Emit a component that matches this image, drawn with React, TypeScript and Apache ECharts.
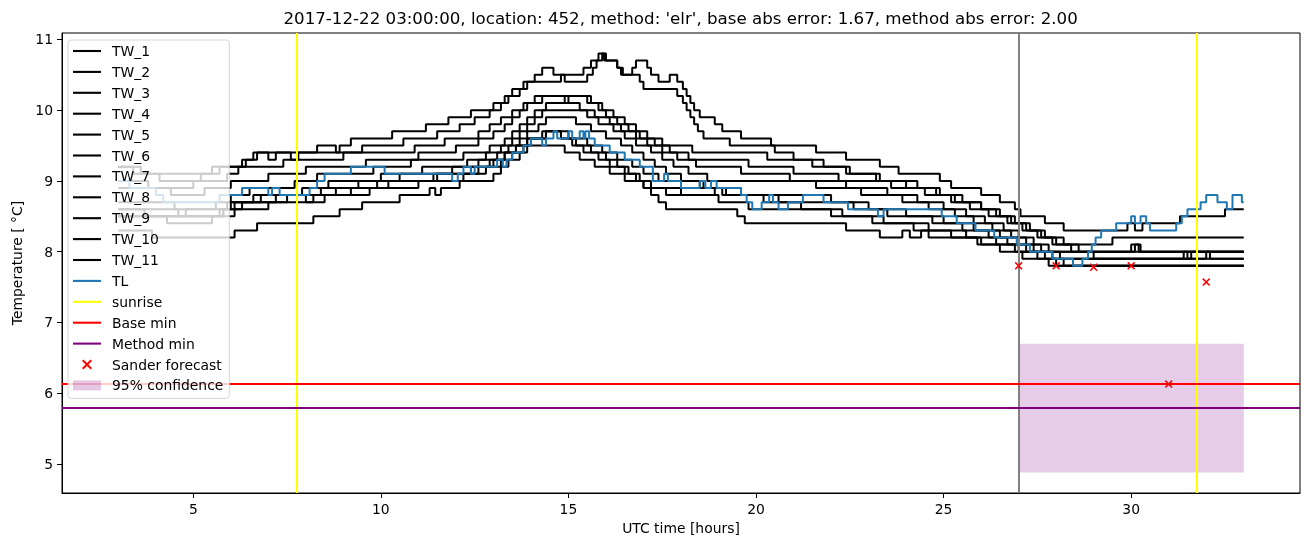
import React, { useEffect, useRef } from "react";
import * as echarts from "echarts";

// ---- data (hours, temperature in deg C); each point = [time, value from this time on]
const TW_1 = [[3,9.2],[3.6,9.1],[4.1,9.0],[5.2,9.1],[5.7,9.2],[6.4,9.3],[6.6,9.4],[7.0,9.3],[7.2,9.4],[8.3,9.5],[8.8,9.4],[8.9,9.5],[9.2,9.6],[10.3,9.7],[11.2,9.8],[11.8,9.9],[12.4,10.0],[13.0,10.1],[13.3,10.2],[13.5,10.3],[13.8,10.4],[14.1,10.5],[14.3,10.6],[14.6,10.5],[15.4,10.6],[15.6,10.7],[15.8,10.8],[15.95,10.7],[16.3,10.6],[16.45,10.5],[16.7,10.6],[16.8,10.7],[17.1,10.6],[17.2,10.5],[17.4,10.4],[17.7,10.5],[17.9,10.4],[18.05,10.3],[18.15,10.2],[18.25,10.1],[18.35,10.0],[18.5,9.9],[18.9,9.8],[19.1,9.7],[19.6,9.6],[20.4,9.5],[21.6,9.4],[22.4,9.3],[23.3,9.2],[23.8,9.1],[24.9,9.0],[25.2,8.9],[26.0,8.8],[26.5,8.7],[26.9,8.6],[27.05,8.5],[27.7,8.4],[28.2,8.3],[29.9,8.4],[30.1,8.3],[30.3,8.4],[31.3,8.5],[32.5,8.6],[33,8.6]];
const TW_2 = [[3,9.2],[3.4,9.1],[5.5,9.2],[6.3,9.3],[6.7,9.4],[7.6,9.3],[7.8,9.4],[9.5,9.5],[10.6,9.6],[11.5,9.7],[12.1,9.8],[12.5,9.9],[12.9,10.0],[13.2,10.1],[13.4,10.2],[13.7,10.3],[13.9,10.4],[14.8,10.5],[14.9,10.4],[15.5,10.5],[15.65,10.6],[15.75,10.7],[15.9,10.8],[16.0,10.7],[16.3,10.6],[16.4,10.5],[16.9,10.4],[17.0,10.3],[17.9,10.2],[18.05,10.1],[18.15,10.0],[18.25,9.9],[18.35,9.8],[18.45,9.7],[18.6,9.6],[19.3,9.5],[20.5,9.4],[21.0,9.3],[21.8,9.2],[22.5,9.1],[23.2,9.0],[24.0,8.9],[24.8,8.8],[25.3,8.7],[26.0,8.6],[26.5,8.5],[26.9,8.4],[27.3,8.3],[27.7,8.2],[28.2,8.1],[29.5,8.2],[33,8.2]];
const TW_3 = [[3,9.0],[3.8,8.9],[5.0,9.0],[5.9,9.1],[6.2,9.2],[7.4,9.3],[9.0,9.4],[10.9,9.5],[11.7,9.6],[12.6,9.7],[12.9,9.8],[13.2,9.9],[13.5,10.0],[13.8,10.1],[14.1,10.2],[15.6,10.1],[15.9,10.0],[16.2,9.9],[16.5,9.8],[16.8,9.7],[17.1,9.6],[17.5,9.5],[18.3,9.4],[20.3,9.3],[21.5,9.2],[22.4,9.1],[23.3,9.0],[24.3,8.9],[24.9,8.8],[25.5,8.7],[26.0,8.6],[26.4,8.5],[26.8,8.4],[27.2,8.3],[27.6,8.2],[28.0,8.1],[28.6,8.0],[33,8.0]];
const TW_4 = [[3,8.9],[4.4,8.8],[5.3,8.9],[6.0,9.0],[7.0,9.1],[8.0,9.2],[9.6,9.3],[11.0,9.4],[12.0,9.5],[12.6,9.6],[13.0,9.7],[13.3,9.8],[13.5,9.9],[13.7,10.0],[13.9,10.1],[14.3,10.2],[14.9,10.1],[15.0,10.2],[15.5,10.1],[15.8,10.0],[16.0,9.9],[16.3,9.8],[16.6,9.7],[16.9,9.6],[17.3,9.5],[17.7,9.4],[18.2,9.3],[19.8,9.2],[21.0,9.1],[22.2,9.0],[23.6,8.9],[24.5,8.8],[25.2,8.7],[25.7,8.6],[26.2,8.5],[26.7,8.4],[27.1,8.3],[27.5,8.2],[27.9,8.1],[28.4,8.0],[29.0,7.9],[33,7.9]];
const TW_5 = [[3,8.7],[4.5,8.6],[5.6,8.7],[6.0,8.8],[6.5,8.9],[7.7,9.0],[8.3,9.1],[9.8,9.2],[10.8,9.3],[12.2,9.4],[12.9,9.5],[13.3,9.6],[13.5,9.7],[13.7,9.8],[13.9,9.9],[14.1,10.0],[14.4,10.1],[15.3,10.0],[15.7,9.9],[16.1,9.8],[16.4,9.7],[16.8,9.6],[17.1,9.5],[17.5,9.4],[17.9,9.3],[18.4,9.2],[19.6,9.1],[20.9,9.0],[22.4,8.9],[23.5,8.8],[24.3,8.7],[25.0,8.6],[25.6,8.5],[26.1,8.4],[26.6,8.3],[27.0,8.2],[27.4,8.1],[27.8,8.0],[30.1,8.1],[30.25,8.0],[33,8.0]];
const TW_6 = [[3,8.6],[4.6,8.5],[5.8,8.6],[6.0,8.7],[6.6,8.8],[7.9,8.9],[8.6,9.0],[10.0,9.1],[11.1,9.2],[12.3,9.3],[12.8,9.4],[13.2,9.5],[13.5,9.6],[13.7,9.7],[13.9,9.8],[14.1,9.9],[14.3,10.0],[15.5,9.9],[15.8,9.8],[16.2,9.7],[16.5,9.6],[16.8,9.5],[17.2,9.4],[17.5,9.3],[17.8,9.2],[18.2,9.1],[18.7,9.0],[21.6,8.9],[22.8,8.8],[23.9,8.7],[24.6,8.6],[25.3,8.5],[25.8,8.4],[26.3,8.3],[26.8,8.2],[27.2,8.1],[27.6,8.0],[28.1,7.9],[31.4,8.0],[31.5,7.9],[31.6,8.0],[33,8.0]];
const TW_7 = [[3,8.5],[4.8,8.6],[5.9,8.7],[6.8,8.8],[8.4,8.9],[9.4,9.0],[10.5,9.1],[11.9,9.2],[12.6,9.3],[13.1,9.4],[13.4,9.5],[13.7,9.6],[13.9,9.7],[14.2,9.8],[14.4,9.9],[15.2,9.8],[15.6,9.7],[16.0,9.6],[16.4,9.5],[16.7,9.4],[17.0,9.3],[17.3,9.2],[17.6,9.1],[18.0,9.0],[18.5,8.9],[19.6,8.8],[22.0,8.7],[23.0,8.6],[24.0,8.5],[25.0,8.4],[25.8,8.3],[26.5,8.2],[27.0,8.1],[27.4,8.0],[27.9,7.9],[32.0,8.0],[32.1,7.9],[33,7.9]];
const TW_8 = [[3,8.5],[5.8,8.6],[6.1,8.7],[7.2,8.8],[8.8,8.9],[9.9,9.0],[11.4,9.1],[12.4,9.2],[12.9,9.3],[13.3,9.4],[13.6,9.5],[13.9,9.6],[14.3,9.7],[15.0,9.6],[15.5,9.5],[15.9,9.4],[16.3,9.3],[16.7,9.2],[17.0,9.1],[17.4,9.0],[18.6,8.9],[19.2,8.8],[20.6,8.7],[22.6,8.6],[23.5,8.5],[24.7,8.4],[25.5,8.3],[26.2,8.2],[26.7,8.1],[27.2,8.0],[27.7,7.9],[28.0,7.8],[33,7.8]];
const TW_9 = [[3,8.6],[3.7,8.5],[5.7,8.6],[6.3,8.7],[7.5,8.8],[8.0,8.7],[8.2,8.8],[9.2,8.9],[10.2,9.0],[11.5,9.1],[12.6,9.2],[13.0,9.3],[13.3,9.4],[13.6,9.5],[13.9,9.6],[14.4,9.7],[14.8,9.6],[15.2,9.5],[15.6,9.4],[16.0,9.3],[16.3,9.2],[16.6,9.1],[16.9,9.0],[17.2,8.9],[17.6,8.8],[19.0,8.7],[19.8,8.6],[22.0,8.5],[23.1,8.4],[24.6,8.3],[25.6,8.2],[26.4,8.1],[27.0,8.0],[27.5,7.9],[28.2,7.8],[33,7.8]];
const TW_10 = [[3,8.5],[4.3,8.4],[5.5,8.5],[6.1,8.6],[7.0,8.7],[8.5,8.8],[9.7,8.9],[11.0,9.0],[12.2,9.1],[12.8,9.2],[13.2,9.3],[13.5,9.4],[13.8,9.5],[14.9,9.4],[15.3,9.3],[15.7,9.2],[16.1,9.1],[16.5,9.0],[17.0,8.9],[18.0,8.8],[18.9,8.9],[19.1,8.8],[20.2,8.7],[21.2,8.6],[22.3,8.5],[23.4,8.4],[24.2,8.3],[25.2,8.2],[26.0,8.1],[26.9,8.0],[30.0,8.1],[30.2,8.0],[33,8.0]];
const TW_11 = [[3,8.3],[3.9,8.2],[6.1,8.3],[6.7,8.4],[8.2,8.5],[8.9,8.6],[9.5,8.7],[10.5,8.8],[11.3,8.9],[11.45,8.8],[11.6,8.9],[12.1,9.0],[13.0,9.1],[13.2,9.2],[13.4,9.3],[13.7,9.4],[13.9,9.5],[14.0,9.6],[14.4,9.7],[14.8,9.6],[15.1,9.5],[15.4,9.4],[15.8,9.3],[16.1,9.2],[16.5,9.1],[16.8,9.0],[17.0,8.9],[17.2,8.8],[17.4,8.7],[17.6,8.6],[19.5,8.5],[19.7,8.4],[22.4,8.3],[23.3,8.2],[23.9,8.3],[24.1,8.2],[24.4,8.3],[24.6,8.2],[25.9,8.1],[26.5,8.0],[27.1,7.9],[27.8,7.8],[33,7.8]];
const TL = [[3,9.0],[3.3,8.9],[4.0,8.8],[4.2,8.7],[5.7,8.8],[6.3,8.9],[7.0,8.8],[7.1,8.9],[7.3,8.8],[8.1,8.9],[8.3,9.0],[8.5,9.1],[9.2,9.2],[10.1,9.1],[11.9,9.0],[12.05,9.1],[12.2,9.2],[12.4,9.1],[12.5,9.2],[13.1,9.3],[13.25,9.2],[13.35,9.3],[13.5,9.4],[13.8,9.5],[14.0,9.6],[14.3,9.5],[14.4,9.6],[14.6,9.7],[14.7,9.6],[15.0,9.7],[15.1,9.6],[15.3,9.7],[15.4,9.6],[15.45,9.7],[15.55,9.6],[15.7,9.5],[16.1,9.4],[16.5,9.3],[16.9,9.2],[17.25,9.0],[17.55,9.1],[17.65,9.0],[18.0,8.9],[18.5,9.0],[18.65,8.9],[18.8,9.0],[18.95,8.9],[19.6,8.8],[19.75,8.7],[19.9,8.6],[20.15,8.7],[20.35,8.8],[20.45,8.7],[20.6,8.6],[20.85,8.7],[21.25,8.8],[21.8,8.7],[22.45,8.6],[23.25,8.5],[23.4,8.6],[24.95,8.5],[25.35,8.4],[25.85,8.3],[26.35,8.2],[26.95,8.1],[27.3,8.0],[27.9,7.9],[28.45,7.8],[28.7,7.9],[28.85,8.0],[28.95,8.1],[29.05,8.2],[29.2,8.3],[29.6,8.4],[30.0,8.5],[30.1,8.4],[30.25,8.5],[30.4,8.4],[30.5,8.3],[31.2,8.4],[31.35,8.5],[31.5,8.6],[31.85,8.7],[32.0,8.8],[32.3,8.7],[32.55,8.6],[32.7,8.8],[32.95,8.7],[33,8.7]];

const TW_NAMES = ["TW_1","TW_2","TW_3","TW_4","TW_5","TW_6","TW_7","TW_8","TW_9","TW_10","TW_11"];
const TW_DATA = [TW_1,TW_2,TW_3,TW_4,TW_5,TW_6,TW_7,TW_8,TW_9,TW_10,TW_11];

const SUNRISE = [7.76, 31.76];
const NOW_TIME = 27.0;
const BASE_MIN = 6.13;
const METHOD_MIN = 5.8;
const SANDER = [[27,7.8],[28,7.8],[29,7.78],[30,7.8],[31,6.13],[32,7.57]];
const CONF_X = [27, 33];
const CONF_Y = [4.88, 6.7];

const X_TICKS = [5, 10, 15, 20, 25, 30];
const Y_TICKS = [5, 6, 7, 8, 9, 10, 11];

const TITLE = "2017-12-22 03:00:00, location: 452, method: 'elr', base abs error: 1.67, method abs error: 2.00";

const FONT = "DejaVu Sans";
const XMARK = "path://M1.4,0 L5,3.6 L8.6,0 L10,1.4 L6.4,5 L10,8.6 L8.6,10 L5,6.4 L1.4,10 L0,8.6 L3.6,5 L0,1.4 Z";
const LINE_ICON = "path://M0,0 H28 V2.1 H0 Z";

export default function App() {
  const ref = useRef<HTMLDivElement>(null);
  useEffect(() => {
    if (!ref.current) return;
    const chart = echarts.init(ref.current, undefined, { renderer: "svg" });
    const series: any[] = [];
    TW_NAMES.forEach((n, i) => {
      series.push({
        name: n, type: "line", step: "end", data: TW_DATA[i], symbol: "none",
        lineStyle: { color: "#000", width: 2 }, itemStyle: { color: "#000" }, z: 2,
        emphasis: { disabled: true }, silent: true,
      });
    });
    series.push({
      name: "TL", type: "line", step: "end", data: TL, symbol: "none",
      lineStyle: { color: "#1f77b4", width: 2 }, itemStyle: { color: "#1f77b4" }, z: 3,
      emphasis: { disabled: true }, silent: true,
    });
    const mk = (color: string, data: any[]) => ({
      silent: true, symbol: ["none", "none"], label: { show: false },
      lineStyle: { color, width: 2, type: "solid" }, emphasis: { disabled: true }, data,
    });
    series.push({
      name: "sunrise", type: "line", data: [], symbol: "none",
      lineStyle: { color: "#ffff00", width: 2 }, itemStyle: { color: "#ffff00" }, z: 4,
      markLine: mk("#ffff00", SUNRISE.map((x) => ({ xAxis: x }))),
    });
    series.push({
      name: "now", type: "line", data: [], symbol: "none",
      lineStyle: { color: "#808080", width: 2 }, itemStyle: { color: "#808080" }, z: 4,
      markLine: mk("#808080", [{ xAxis: NOW_TIME }]),
    });
    series.push({
      name: "Base min", type: "line", data: [], symbol: "none",
      lineStyle: { color: "#ff0000", width: 2 }, itemStyle: { color: "#ff0000" }, z: 4,
      markLine: mk("#ff0000", [{ yAxis: BASE_MIN }]),
    });
    series.push({
      name: "Method min", type: "line", data: [], symbol: "none",
      lineStyle: { color: "#800080", width: 2 }, itemStyle: { color: "#800080" }, z: 4,
      markLine: mk("#800080", [{ yAxis: METHOD_MIN }]),
    });
    series.push({
      name: "Sander forecast", type: "scatter", data: SANDER, symbol: XMARK, symbolSize: 8,
      itemStyle: { color: "#ff0000", opacity: 1 }, z: 6, silent: true,
    });
    series.push({
      name: "95% confidence", type: "line", data: [], symbol: "none",
      lineStyle: { color: "rgba(128,0,128,0.2)", width: 0 }, itemStyle: { color: "rgba(128,0,128,0.2)" }, z: 5,
      markArea: {
        silent: true, itemStyle: { color: "rgba(128,0,128,0.2)" },
        data: [[{ xAxis: CONF_X[0], yAxis: CONF_Y[0] }, { xAxis: CONF_X[1], yAxis: CONF_Y[1] }]],
      },
    });

    const legendData: any[] = [
      ...TW_NAMES.map((n) => ({ name: n, icon: LINE_ICON })),
      { name: "TL", icon: LINE_ICON },
      { name: "sunrise", icon: LINE_ICON },
      { name: "Base min", icon: LINE_ICON },
      { name: "Method min", icon: LINE_ICON },
      { name: "Sander forecast" },
      { name: "95% confidence", icon: "rect", itemStyle: { color: "rgba(128,0,128,0.22)" } },
    ];

    const axisCommon = {
      axisLine: { show: true, onZero: false, lineStyle: { color: "#000", width: 1 } },
      splitLine: { show: false },
    };

    chart.setOption({
      animation: false,
      textStyle: { fontFamily: FONT },
      grid: { left: 62, right: 11, top: 33, bottom: 54, show: true, borderColor: "#000", borderWidth: 1 },
      xAxis: {
        type: "value", min: 1.5, max: 34.5, ...axisCommon,
        axisTick: { show: true, length: 5, lineStyle: { color: "#000" }, customValues: X_TICKS },
        axisLabel: { customValues: X_TICKS, fontSize: 13.9, color: "#000", margin: 9, fontFamily: FONT },
        name: "UTC time [hours]", nameLocation: "middle", nameGap: 28,
        nameTextStyle: { fontSize: 13.9, color: "#000", fontFamily: FONT },
      },
      yAxis: {
        type: "value", min: 4.59, max: 11.09, ...axisCommon,
        axisTick: { show: true, length: 5, lineStyle: { color: "#000" }, customValues: Y_TICKS },
        axisLabel: { customValues: Y_TICKS, fontSize: 13.9, color: "#000", margin: 9, fontFamily: FONT },
        name: "Temperature [ °C]", nameLocation: "middle", nameGap: 36,
        nameTextStyle: { fontSize: 13.9, color: "#000", fontFamily: FONT },
      },
      legend: {
        data: legendData, orient: "vertical", left: 68, top: 40,
        itemWidth: 28, itemHeight: 10, itemGap: 4.9,
        padding: [3, 6, 5, 5],
        backgroundColor: "rgba(255,255,255,0.8)", borderColor: "rgba(204,204,204,0.8)",
        borderWidth: 1, borderRadius: 3, selectedMode: false, z: 20,
        textStyle: { fontFamily: FONT, fontSize: 13.9, color: "#000", lineHeight: 16, padding: [0, 0, 0, 6] },
      },
      graphic: [
        {
          type: "text", x: 680.6, y: 18, z: 30,
          style: { text: TITLE, fill: "#000", font: `16.67px "${FONT}"`, align: "center", verticalAlign: "middle" },
        },
      ],
      series,
    });
    return () => chart.dispose();
  }, []);
  return <div ref={ref} style={{ position: "fixed", left: 0, top: 0, width: 1311, height: 547 }} />;
}
